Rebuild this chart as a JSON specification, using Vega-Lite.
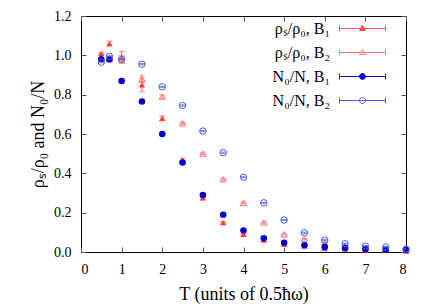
{
  "$schema": "https://vega.github.io/schema/vega-lite/v6.json",
  "width": 325,
  "height": 236,
  "autosize": "none",
  "padding": {"left": 81, "top": 16, "right": 30, "bottom": 53},
  "config": {
    "view": {"stroke": "black", "strokeWidth": 1},
    "font": "Liberation Serif",
    "axis": {
      "domain": false,
      "zindex": 1,
      "labelFont": "Liberation Serif",
      "labelFontSize": 14,
      "labelColor": "black",
      "titleFont": "Liberation Serif",
      "titleFontSize": 18,
      "titleFontWeight": "normal",
      "titleColor": "black"
    }
  },
  "data": {
    "values": [
      {"T": 0.5, "v": 1.01, "err": 0.005, "s": "ρₛ/ρ₀, B₁"},
      {"T": 0.7, "v": 1.06, "err": 0.012, "s": "ρₛ/ρ₀, B₁"},
      {"T": 1.0, "v": 0.99, "err": 0.03, "s": "ρₛ/ρ₀, B₁"},
      {"T": 1.5, "v": 0.85, "err": 0.035, "s": "ρₛ/ρ₀, B₁"},
      {"T": 2.0, "v": 0.68, "err": 0.012, "s": "ρₛ/ρ₀, B₁"},
      {"T": 2.5, "v": 0.47, "err": 0.008, "s": "ρₛ/ρ₀, B₁"},
      {"T": 3.0, "v": 0.275, "err": 0.006, "s": "ρₛ/ρ₀, B₁"},
      {"T": 3.5, "v": 0.15, "err": 0.005, "s": "ρₛ/ρ₀, B₁"},
      {"T": 4.0, "v": 0.09, "err": 0.004, "s": "ρₛ/ρ₀, B₁"},
      {"T": 4.5, "v": 0.06, "err": 0.004, "s": "ρₛ/ρ₀, B₁"},
      {"T": 5.0, "v": 0.04, "err": 0.003, "s": "ρₛ/ρ₀, B₁"},
      {"T": 5.5, "v": 0.03, "err": 0.003, "s": "ρₛ/ρ₀, B₁"},
      {"T": 6.0, "v": 0.02, "err": 0.003, "s": "ρₛ/ρ₀, B₁"},
      {"T": 6.5, "v": 0.015, "err": 0.003, "s": "ρₛ/ρ₀, B₁"},
      {"T": 7.0, "v": 0.01, "err": 0.003, "s": "ρₛ/ρ₀, B₁"},
      {"T": 7.5, "v": 0.008, "err": 0.003, "s": "ρₛ/ρ₀, B₁"},
      {"T": 8.0, "v": 0.005, "err": 0.003, "s": "ρₛ/ρ₀, B₁"},
      {"T": 0.5, "v": 0.98, "err": 0.004, "s": "ρₛ/ρ₀, B₂"},
      {"T": 0.7, "v": 0.98, "err": 0.004, "s": "ρₛ/ρ₀, B₂"},
      {"T": 1.0, "v": 0.98, "err": 0.02, "s": "ρₛ/ρ₀, B₂"},
      {"T": 1.5, "v": 0.88, "err": 0.02, "s": "ρₛ/ρ₀, B₂"},
      {"T": 2.0, "v": 0.79, "err": 0.008, "s": "ρₛ/ρ₀, B₂"},
      {"T": 2.5, "v": 0.655, "err": 0.005, "s": "ρₛ/ρ₀, B₂"},
      {"T": 3.0, "v": 0.5, "err": 0.004, "s": "ρₛ/ρ₀, B₂"},
      {"T": 3.5, "v": 0.37, "err": 0.004, "s": "ρₛ/ρ₀, B₂"},
      {"T": 4.0, "v": 0.25, "err": 0.004, "s": "ρₛ/ρ₀, B₂"},
      {"T": 4.5, "v": 0.15, "err": 0.004, "s": "ρₛ/ρ₀, B₂"},
      {"T": 5.0, "v": 0.09, "err": 0.003, "s": "ρₛ/ρ₀, B₂"},
      {"T": 5.5, "v": 0.065, "err": 0.003, "s": "ρₛ/ρ₀, B₂"},
      {"T": 6.0, "v": 0.045, "err": 0.003, "s": "ρₛ/ρ₀, B₂"},
      {"T": 6.5, "v": 0.03, "err": 0.003, "s": "ρₛ/ρ₀, B₂"},
      {"T": 7.0, "v": 0.02, "err": 0.003, "s": "ρₛ/ρ₀, B₂"},
      {"T": 7.5, "v": 0.015, "err": 0.003, "s": "ρₛ/ρ₀, B₂"},
      {"T": 8.0, "v": 0.01, "err": 0.003, "s": "ρₛ/ρ₀, B₂"},
      {"T": 0.5, "v": 0.98, "err": 0.003, "s": "N₀/N, B₁"},
      {"T": 0.7, "v": 0.98, "err": 0.003, "s": "N₀/N, B₁"},
      {"T": 1.0, "v": 0.87, "err": 0.003, "s": "N₀/N, B₁"},
      {"T": 1.5, "v": 0.765, "err": 0.003, "s": "N₀/N, B₁"},
      {"T": 2.0, "v": 0.6, "err": 0.003, "s": "N₀/N, B₁"},
      {"T": 2.5, "v": 0.455, "err": 0.003, "s": "N₀/N, B₁"},
      {"T": 3.0, "v": 0.29, "err": 0.003, "s": "N₀/N, B₁"},
      {"T": 3.5, "v": 0.19, "err": 0.003, "s": "N₀/N, B₁"},
      {"T": 4.0, "v": 0.11, "err": 0.003, "s": "N₀/N, B₁"},
      {"T": 4.5, "v": 0.07, "err": 0.003, "s": "N₀/N, B₁"},
      {"T": 5.0, "v": 0.047, "err": 0.003, "s": "N₀/N, B₁"},
      {"T": 5.5, "v": 0.035, "err": 0.003, "s": "N₀/N, B₁"},
      {"T": 6.0, "v": 0.025, "err": 0.003, "s": "N₀/N, B₁"},
      {"T": 6.5, "v": 0.02, "err": 0.003, "s": "N₀/N, B₁"},
      {"T": 7.0, "v": 0.015, "err": 0.003, "s": "N₀/N, B₁"},
      {"T": 7.5, "v": 0.012, "err": 0.003, "s": "N₀/N, B₁"},
      {"T": 8.0, "v": 0.01, "err": 0.003, "s": "N₀/N, B₁"},
      {"T": 0.5, "v": 0.965, "err": 0.003, "s": "N₀/N, B₂"},
      {"T": 0.7, "v": 0.995, "err": 0.003, "s": "N₀/N, B₂"},
      {"T": 1.0, "v": 0.98, "err": 0.003, "s": "N₀/N, B₂"},
      {"T": 1.5, "v": 0.955, "err": 0.003, "s": "N₀/N, B₂"},
      {"T": 2.0, "v": 0.84, "err": 0.003, "s": "N₀/N, B₂"},
      {"T": 2.5, "v": 0.745, "err": 0.003, "s": "N₀/N, B₂"},
      {"T": 3.0, "v": 0.615, "err": 0.003, "s": "N₀/N, B₂"},
      {"T": 3.5, "v": 0.505, "err": 0.003, "s": "N₀/N, B₂"},
      {"T": 4.0, "v": 0.38, "err": 0.003, "s": "N₀/N, B₂"},
      {"T": 4.5, "v": 0.25, "err": 0.003, "s": "N₀/N, B₂"},
      {"T": 5.0, "v": 0.163, "err": 0.003, "s": "N₀/N, B₂"},
      {"T": 5.5, "v": 0.098, "err": 0.003, "s": "N₀/N, B₂"},
      {"T": 6.0, "v": 0.06, "err": 0.003, "s": "N₀/N, B₂"},
      {"T": 6.5, "v": 0.042, "err": 0.003, "s": "N₀/N, B₂"},
      {"T": 7.0, "v": 0.03, "err": 0.003, "s": "N₀/N, B₂"},
      {"T": 7.5, "v": 0.025, "err": 0.003, "s": "N₀/N, B₂"},
      {"T": 8.0, "v": 0.015, "err": 0.003, "s": "N₀/N, B₂"}
    ]
  },
  "resolve": {"axis": {"x": "independent", "y": "independent"}},
  "layer": [
    {
      "transform": [{"filter": "datum.s == 'ρₛ/ρ₀, B₁'"}],
      "mark": {"type": "point", "shape": "triangle-up", "filled": true, "color": "#ff3030", "size": 38, "opacity": 1},
      "encoding": {
        "x": {"field": "T", "type": "quantitative", "scale": {"domain": [0, 8]},
          "axis": {"orient": "bottom", "values": [0, 1, 2, 3, 4, 5, 6, 7, 8], "ticks": false, "grid": true, "gridColor": "#555555", "gridOpacity": 1, "gridWidth": 1, "gridDash": [5, 226, 5, 1000], "labelPadding": 10, "title": "T (units of 0.5ħω)", "titlePadding": 9}},
        "y": {"field": "v", "type": "quantitative", "scale": {"domain": [0, 1.2]},
          "axis": {"orient": "left", "values": [0, 0.2, 0.4, 0.6, 0.8, 1.0, 1.2], "ticks": false, "grid": true, "gridColor": "#555555", "gridOpacity": 1, "gridWidth": 1, "gridDash": [5, 315, 5, 1000], "format": ".1f", "labelPadding": 10, "title": "ρₛ/ρ₀ and N₀/N", "titlePadding": 6}}
      }
    },
    {
      "transform": [{"filter": "datum.s == 'ρₛ/ρ₀, B₁'"}],
      "mark": {"type": "errorbar", "ticks": {"size": 6}, "color": "#ff5252", "clip": true},
      "encoding": {
        "x": {"field": "T", "type": "quantitative", "axis": null},
        "y": {"field": "v", "type": "quantitative", "axis": null},
        "yError": {"field": "err"}
      }
    },
    {
      "transform": [{"filter": "datum.s == 'ρₛ/ρ₀, B₂'"}],
      "mark": {"type": "errorbar", "ticks": {"size": 6}, "color": "#ff7a7a", "clip": true},
      "encoding": {
        "x": {"field": "T", "type": "quantitative", "axis": null},
        "y": {"field": "v", "type": "quantitative", "axis": null},
        "yError": {"field": "err"}
      }
    },
    {
      "transform": [{"filter": "datum.s == 'ρₛ/ρ₀, B₂'"}],
      "mark": {"type": "point", "shape": "triangle-up", "filled": false, "color": "#ff6a6a", "size": 38, "strokeWidth": 1, "opacity": 1},
      "encoding": {
        "x": {"field": "T", "type": "quantitative", "axis": null},
        "y": {"field": "v", "type": "quantitative", "axis": null}
      }
    },
    {
      "transform": [{"filter": "datum.s == 'N₀/N, B₁'"}],
      "mark": {"type": "errorbar", "ticks": {"size": 6}, "color": "#0a10d0", "clip": true},
      "encoding": {
        "x": {"field": "T", "type": "quantitative", "axis": null},
        "y": {"field": "v", "type": "quantitative", "axis": null},
        "yError": {"field": "err"}
      }
    },
    {
      "transform": [{"filter": "datum.s == 'N₀/N, B₁'"}],
      "mark": {"type": "point", "shape": "circle", "filled": true, "color": "#0000cc", "size": 42, "opacity": 1},
      "encoding": {
        "x": {"field": "T", "type": "quantitative", "axis": null},
        "y": {"field": "v", "type": "quantitative", "axis": null}
      }
    },
    {
      "transform": [{"filter": "datum.s == 'N₀/N, B₂'"}],
      "mark": {"type": "errorbar", "ticks": {"size": 6}, "color": "#4a5ae6", "clip": true},
      "encoding": {
        "x": {"field": "T", "type": "quantitative", "axis": null},
        "y": {"field": "v", "type": "quantitative", "axis": null},
        "yError": {"field": "err"}
      }
    },
    {
      "transform": [{"filter": "datum.s == 'N₀/N, B₂'"}],
      "mark": {"type": "point", "shape": "circle", "filled": false, "color": "#4a5ae6", "size": 42, "strokeWidth": 1, "opacity": 1},
      "encoding": {
        "x": {"field": "T", "type": "quantitative", "axis": null},
        "y": {"field": "v", "type": "quantitative", "axis": null}
      }
    },
    {
      "transform": [{"filter": "datum.T < 0"}],
      "mark": {"type": "point", "opacity": 1, "strokeWidth": 1},
      "encoding": {
        "x": {"field": "T", "type": "quantitative", "axis": null},
        "y": {"field": "v", "type": "quantitative", "axis": null},
        "shape": {"field": "s", "type": "nominal",
          "scale": {"domain": ["ρₛ/ρ₀, B₁", "ρₛ/ρ₀, B₂", "N₀/N, B₁", "N₀/N, B₂"],
            "range": [
              "M-2.3,0H2.3M-2.3,-0.3V0.3M2.3,-0.3V0.3M0,-0.32L0.3,0.2L-0.3,0.2Z",
              "M-2.3,0H2.3M-2.3,-0.3V0.3M2.3,-0.3V0.3M0,-0.32L0.3,0.2L-0.3,0.2Z",
              "M-2.3,0H2.3M-2.3,-0.3V0.3M2.3,-0.3V0.3M0.3,0A0.3,0.3 0 1,0 -0.3,0A0.3,0.3 0 1,0 0.3,0Z",
              "M-2.3,0H2.3M-2.3,-0.3V0.3M2.3,-0.3V0.3M0.3,0A0.3,0.3 0 1,0 -0.3,0A0.3,0.3 0 1,0 0.3,0Z"
            ]},
          "legend": {
            "orient": "none", "legendX": 271, "legendY": 2, "title": null, "padding": 0,
            "symbolSize": 400, "symbolStrokeWidth": 1, "symbolOpacity": 1, "rowPadding": 5,
            "labelFont": "Liberation Serif", "labelFontSize": 16, "labelColor": "black",
            "labelAlign": "right", "labelOffset": -43, "labelLimit": 200
          }},
        "stroke": {"field": "s", "type": "nominal",
          "scale": {"domain": ["ρₛ/ρ₀, B₁", "ρₛ/ρ₀, B₂", "N₀/N, B₁", "N₀/N, B₂"], "range": ["#ff5252", "#ff7a7a", "#0a10d0", "#4a5ae6"]}},
        "fill": {"field": "s", "type": "nominal",
          "scale": {"domain": ["ρₛ/ρ₀, B₁", "ρₛ/ρ₀, B₂", "N₀/N, B₁", "N₀/N, B₂"], "range": ["#ff3030", "transparent", "#0000cc", "transparent"]}}
      }
    }
  ]
}
